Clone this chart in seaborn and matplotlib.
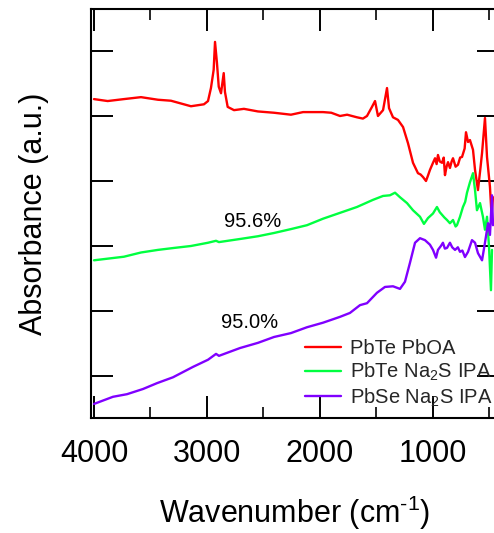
import matplotlib
matplotlib.use("Agg")
import matplotlib.pyplot as plt
from matplotlib.ticker import MultipleLocator
import seaborn as sns
import pandas as pd

# FTIR absorbance spectra (offset for clarity), wavenumber in cm^-1
pbte_pboa_wn = [4000, 3879, 3735, 3584, 3434, 3319, 3142, 3027, 2991, 2965, 2941, 2929,
                2912, 2896, 2876, 2852, 2841, 2817, 2761, 2673, 2549, 2407, 2257, 2150,
                1973, 1900, 1823, 1760, 1673, 1620, 1584, 1540, 1513, 1487, 1442, 1407,
                1389, 1354, 1310, 1265, 1221, 1177, 1133, 1110, 1088, 1062, 1045, 1027,
                1000, 982, 968, 956, 940, 920, 905, 894, 880, 867, 850, 835, 823, 800,
                779, 760, 743, 720, 708, 690, 673, 646, 628, 602, 580, 566, 540, 522,
                496, 482, 469]
pbte_pboa_abs = [4.26, 4.23, 4.26, 4.29, 4.25, 4.235, 4.15, 4.18, 4.23, 4.43, 4.71, 5.14,
                 4.82, 4.45, 4.35, 4.66, 4.37, 4.14, 4.09, 4.11, 4.07, 4.05, 4.02, 4.06,
                 4.06, 4.05, 4.00, 4.02, 3.98, 3.96, 4.00, 4.14, 4.23, 4.00, 4.09, 4.43,
                 4.12, 3.98, 3.94, 3.83, 3.58, 3.28, 3.12, 3.10, 3.06, 3.00, 3.08, 3.17,
                 3.28, 3.35, 3.26, 3.40, 3.30, 3.28, 3.36, 3.09, 3.22, 3.29, 3.20, 3.30,
                 3.35, 3.22, 3.25, 3.36, 3.37, 3.50, 3.75, 3.60, 3.63, 3.48, 3.17, 2.86,
                 3.20, 3.43, 3.97, 3.37, 2.91, 2.48, 2.75]

pbte_na2s_wn = [4000, 3735, 3584, 3434, 3292, 3142, 2991, 2920, 2894, 2699, 2549, 2407,
                2257, 2115, 1973, 1823, 1673, 1531, 1442, 1381, 1336, 1292, 1230, 1177,
                1115, 1080, 1044, 1000, 965, 940, 920, 900, 876, 850, 823, 800, 788, 761,
                735, 715, 699, 673, 646, 628, 611, 584, 558, 540, 522, 504, 487, 478]
pbte_na2s_abs = [1.78, 1.835, 1.90, 1.94, 1.97, 2.00, 2.05, 2.08, 2.06, 2.11, 2.15, 2.20,
                 2.26, 2.32, 2.42, 2.51, 2.60, 2.71, 2.77, 2.78, 2.82, 2.75, 2.66, 2.55,
                 2.45, 2.34, 2.43, 2.50, 2.60, 2.52, 2.48, 2.44, 2.40, 2.35, 2.40, 2.30,
                 2.32, 2.45, 2.60, 2.68, 2.82, 2.98, 3.12, 2.86, 2.55, 2.66, 2.45, 2.25,
                 2.45, 1.98, 1.32, 1.94]

pbse_na2s_wn = [4000, 3832, 3708, 3566, 3442, 3301, 3124, 2991, 2920, 2894, 2708, 2549,
                2407, 2257, 2115, 1973, 1823, 1735, 1646, 1584, 1496, 1425, 1354, 1292,
                1248, 1204, 1159, 1115, 1071, 1027, 1000, 973, 956, 930, 912, 895, 876,
                850, 830, 805, 780, 761, 740, 717, 690, 655, 628, 602, 566, 540, 513,
                496, 478, 469]
pbse_na2s_abs = [-0.43, -0.32, -0.28, -0.20, -0.11, -0.02, 0.14, 0.25, 0.34, 0.31, 0.43,
                 0.51, 0.60, 0.66, 0.75, 0.82, 0.91, 0.97, 1.09, 1.12, 1.28, 1.37, 1.38,
                 1.34, 1.45, 1.74, 2.05, 2.12, 2.09, 2.02, 1.94, 1.82, 1.94, 2.00, 2.05,
                 1.96, 1.97, 2.05, 1.98, 1.94, 1.98, 1.91, 1.93, 1.83, 1.91, 2.09, 2.05,
                 1.89, 1.78, 2.05, 2.35, 2.17, 2.78, 2.32]

sample_names = ["PbTe PbOA", r"PbTe Na$_\mathrm{2}$S IPA", r"PbSe Na$_\mathrm{2}$S IPA"]
line_colors = ["#ff0000", "#00ff40", "#8000ff"]

# percentage annotations: (label, wavenumber, absorbance)
annotations = [("95.6%", 2600, 2.37), ("95.0%", 2620, 0.82)]

frames = []
for name, wn, ab in zip(sample_names,
                        [pbte_pboa_wn, pbte_na2s_wn, pbse_na2s_wn],
                        [pbte_pboa_abs, pbte_na2s_abs, pbse_na2s_abs]):
    frames.append(pd.DataFrame({"wavenumber": wn, "absorbance": ab, "sample": name}))
data = pd.concat(frames, ignore_index=True)

sns.set_theme(style="ticks")
plt.rcParams["font.family"] = ["Liberation Sans", "DejaVu Sans"]
plt.rcParams["mathtext.fontset"] = "custom"
plt.rcParams["mathtext.rm"] = "Liberation Sans"
plt.rcParams["mathtext.it"] = "Liberation Sans:italic"
plt.rcParams["mathtext.bf"] = "Liberation Sans:bold"

fig = plt.figure(figsize=(4.94, 5.33), dpi=100)
ax = fig.add_axes([0.1842, 0.2158, 0.8259, 0.7673])

sns.lineplot(data=data, x="wavenumber", y="absorbance", hue="sample",
             hue_order=sample_names, palette=line_colors, estimator=None,
             sort=False, linewidth=1.7, ax=ax)

ax.set_xlim(4026.5, 416)
ax.set_ylim(-0.646, 5.646)

ax.xaxis.set_major_locator(MultipleLocator(1000))
ax.xaxis.set_minor_locator(MultipleLocator(500))
ax.yaxis.set_major_locator(MultipleLocator(1))
ax.set_yticklabels([])

ax.tick_params(axis="both", which="major", direction="in", length=15.8, width=1.4,
               top=True, right=True, color="black")
ax.tick_params(axis="x", which="minor", direction="in", length=7.9, width=1.4,
               top=True, bottom=True)
ax.tick_params(axis="x", which="major", labelsize=22, pad=15, labelcolor="black")
for side in ax.spines.values():
    side.set_linewidth(1.5)
    side.set_color("black")

ax.set_xlabel(r"Wavenumber (cm$^{\text{-1}}$)", fontsize=22, labelpad=18, color="black")
ax.set_ylabel("Absorbance (a.u.)", fontsize=22, labelpad=27, color="black")

for text, wn, ab in annotations:
    ax.text(wn, ab, text, fontsize=14.5, ha="center", va="center", color="black")

handles, labels = ax.get_legend_handles_labels()
ax.legend(handles, labels, loc="lower right", bbox_to_anchor=(1.014, -0.007),
          frameon=False, fontsize=14.5, handlelength=1.8, handletextpad=0.45,
          labelspacing=0.15, borderaxespad=0.2)

fig.savefig("out.png", dpi=100)
